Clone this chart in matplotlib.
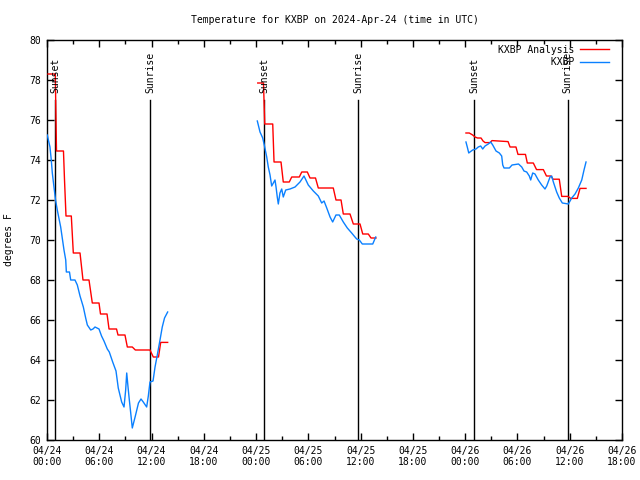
import matplotlib
matplotlib.use("Agg")
import matplotlib.pyplot as plt
from matplotlib.ticker import MultipleLocator
import numpy as np

plt.rcParams['font.family'] = ['DejaVu Sans Mono']

# Hours since 2024-04-24 00:00 UTC
analysis_hours = [
    [0.11, 0.95, 1.09, 1.89, 2.01, 2.18, 2.79, 3.02, 3.79, 4.13, 4.82, 5.20, 5.97, 6.14,
     6.89, 7.12, 7.98, 8.15, 8.95, 9.22, 9.79, 10.14, 11.82, 12.20, 12.80, 13.05, 13.85],
    [24.19, 24.85, 24.99, 25.91, 26.06, 26.86, 27.12, 27.81, 28.09, 28.96, 29.24, 29.88,
     30.19, 30.82, 31.14, 32.86, 33.17, 33.75, 34.01, 34.78, 35.16, 35.93, 36.24, 36.88,
     37.19, 37.76],
    [48.09, 48.47, 48.86, 49.13, 49.41, 49.82, 50.05, 50.28, 50.85, 51.08, 52.92, 53.15,
     53.83, 54.06, 54.92, 55.13, 55.82, 56.19, 56.97, 57.33, 57.85, 58.08, 58.80, 59.08,
     59.80, 60.11, 60.87, 61.18, 61.87],
]
analysis_temps = [
    [78.3, 78.3, 74.45, 74.45, 73.0, 71.2, 71.2, 69.35, 69.35, 68.0, 68.0, 66.85, 66.85, 66.3,
     66.3, 65.55, 65.55, 65.25, 65.25, 64.65, 64.65, 64.5, 64.5, 64.15, 64.15, 64.88, 64.88],
    [77.85, 77.85, 75.8, 75.8, 73.9, 73.9, 72.9, 72.9, 73.15, 73.15, 73.4, 73.4,
     73.1, 73.1, 72.6, 72.6, 72.0, 72.0, 71.3, 71.3, 70.8, 70.8, 70.3, 70.3,
     70.1, 70.1],
    [75.35, 75.35, 75.25, 75.15, 75.1, 75.1, 74.95, 74.87, 74.87, 74.97, 74.92, 74.65,
     74.65, 74.28, 74.28, 73.85, 73.85, 73.52, 73.52, 73.2, 73.2, 73.04, 73.04, 72.18,
     72.18, 72.08, 72.08, 72.58, 72.58],
]

obs_hours = [
    [0.03, 0.34, 0.49, 0.61, 0.80, 0.98, 1.18, 1.57, 1.95, 2.15, 2.22, 2.58, 2.72, 3.21,
     3.48, 3.79, 4.17, 4.44, 4.63, 5.02, 5.28, 5.51, 5.97, 6.26, 6.54, 6.92, 7.15, 7.54,
     7.92, 8.18, 8.57, 8.84, 9.03, 9.15, 9.30, 9.45, 9.61, 9.79, 10.14, 10.50, 10.79,
     11.05, 11.44, 11.63, 11.82, 12.17, 12.40, 12.66, 12.97, 13.23, 13.49, 13.85],
    [24.14, 24.45, 24.76, 24.94, 25.22, 25.40, 25.60, 25.79, 25.98, 26.17, 26.29, 26.43,
     26.55, 26.74, 26.94, 27.12, 27.40, 27.89, 28.47, 29.04, 29.50, 29.99, 30.57, 31.14,
     31.53, 31.80, 32.11, 32.49, 32.79, 33.17, 33.55, 34.01, 34.47, 34.97, 35.35, 35.55,
     35.85, 36.19, 37.39, 37.73],
    [48.09, 48.24, 48.41, 48.55, 48.86, 49.24, 49.50, 49.78, 50.01, 50.28, 50.65, 50.93,
     51.16, 51.54, 51.92, 52.19, 52.31, 52.46, 53.07, 53.38, 54.12, 54.49, 54.75, 55.06,
     55.36, 55.52, 55.75, 56.01, 56.39, 56.78, 57.16, 57.36, 57.74, 57.93, 58.12, 58.50,
     58.80, 59.15, 59.84, 60.23, 60.61, 60.99, 61.38, 61.64, 61.87],
]
obs_temps = [
    [75.25, 74.65, 74.0, 73.35, 72.65, 72.0, 71.5, 70.65, 69.5, 69.0, 68.4, 68.4, 68.0, 68.0,
     67.75, 67.2, 66.65, 66.1, 65.75, 65.5, 65.55, 65.65, 65.55, 65.2, 64.95, 64.55, 64.4, 63.9,
     63.45, 62.6, 61.9, 61.65, 62.5, 63.35, 62.65, 62.0, 61.35, 60.6, 61.2, 61.85, 62.05,
     61.9, 61.65, 62.2, 62.9, 62.95, 63.65, 64.25, 65.0, 65.65, 66.1, 66.4],
    [75.95, 75.4, 75.1, 74.75, 74.15, 73.65, 73.25, 72.7, 72.85, 73.0, 72.65, 72.15,
     71.8, 72.35, 72.55, 72.15, 72.5, 72.55, 72.65, 72.9, 73.2, 72.75, 72.45, 72.2,
     71.85, 71.95, 71.6, 71.15, 70.9, 71.25, 71.25, 70.9, 70.6, 70.35, 70.15, 70.05,
     70.0, 69.8, 69.8, 70.15],
    [74.9, 74.65, 74.35, 74.4, 74.5, 74.55, 74.65, 74.7, 74.55, 74.7, 74.8, 74.9,
     74.75, 74.45, 74.35, 74.2, 73.75, 73.6, 73.6, 73.75, 73.8, 73.65, 73.45, 73.4,
     73.2, 73.0, 73.35, 73.3, 73.0, 72.75, 72.55, 72.7, 73.15, 73.2, 72.9, 72.4,
     72.1, 71.85, 71.8, 72.1, 72.3, 72.6, 73.0, 73.5, 73.9],
]

sun_hours = [0.92, 11.82, 24.91, 35.70, 49.01, 59.75]
sun_labels = ["Sunset", "Sunrise", "Sunset", "Sunrise", "Sunset", "Sunrise"]

tick_hours = [0, 6, 12, 18, 24, 30, 36, 42, 48, 54, 60, 66]
tick_labels = ["04/24\n00:00", "04/24\n06:00", "04/24\n12:00", "04/24\n18:00",
               "04/25\n00:00", "04/25\n06:00", "04/25\n12:00", "04/25\n18:00",
               "04/26\n00:00", "04/26\n06:00", "04/26\n12:00", "04/26\n18:00"]

RED = "#ff0000"
BLUE = "#0a80ff"
FS = 7

fig = plt.figure(figsize=(6.4, 4.8), dpi=100)
ax = fig.add_axes([47/640, 40/480, 575/640, 400/480])

for i, (h, v) in enumerate(zip(analysis_hours, analysis_temps)):
    ax.plot(h, v, color=RED, lw=1.0, label="KXBP Analysis" if i == 0 else None, zorder=3)
for i, (h, v) in enumerate(zip(obs_hours, obs_temps)):
    ax.plot(h, v, color=BLUE, lw=1.0, label="         KXBP" if i == 0 else None, zorder=3)

for h, lab in zip(sun_hours, sun_labels):
    ax.plot([h, h], [60, 77.0], color="black", lw=1.0, zorder=2)
    ax.text(h, 77.35, lab, rotation=90, ha="center", va="bottom", fontsize=FS, zorder=4)

ax.set_xlim(0, 66)
ax.set_ylim(60, 80)
ax.set_xticks(tick_hours)
ax.set_xticklabels(tick_labels, fontsize=FS)
ax.xaxis.set_minor_locator(MultipleLocator(3))
ax.set_yticks(np.arange(60, 81, 2))
ax.set_yticklabels([str(v) for v in range(60, 81, 2)], fontsize=FS)
ax.tick_params(which="both", direction="in", top=True, right=True, width=1, colors="black")
ax.tick_params(which="major", length=5, pad=4)
ax.tick_params(which="minor", length=3)
for s in ax.spines.values():
    s.set_linewidth(1.0)

ax.set_ylabel("degrees F", fontsize=FS, labelpad=11)
ax.set_title("Temperature for KXBP on 2024-Apr-24 (time in UTC)", fontsize=FS, pad=12)

leg = ax.legend(loc="upper right", frameon=False, markerfirst=False,
                fontsize=FS, handlelength=3.0, handletextpad=0.6, labelspacing=0.25,
                borderpad=0.2)
leg.set_bbox_to_anchor((616/640, 442/480), transform=fig.transFigure)

fig.savefig("out.png", dpi=100)
